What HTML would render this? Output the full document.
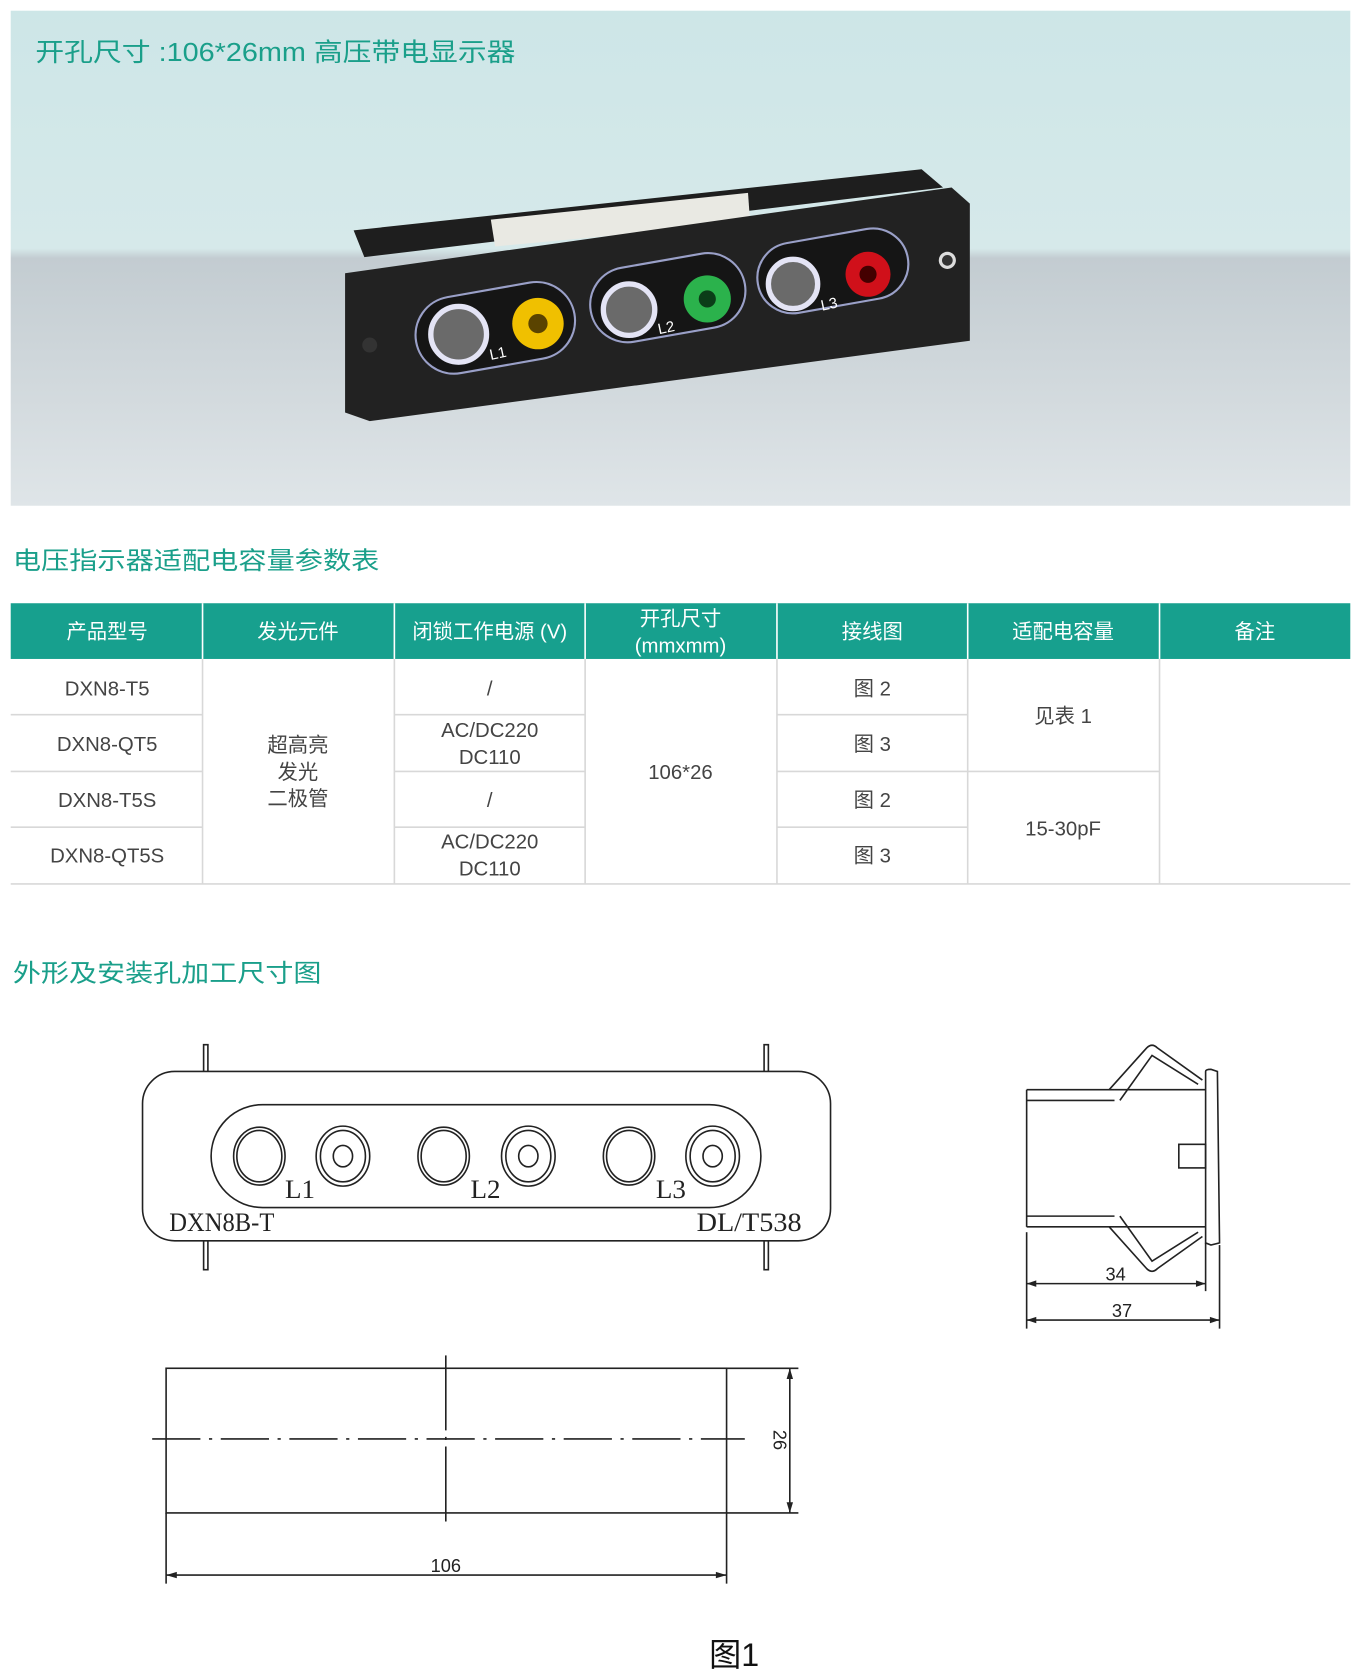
<!DOCTYPE html>
<html><head><meta charset="utf-8"><style>
html,body{margin:0;padding:0;background:#fff;}
svg{display:block;}
text{font-family:"Liberation Sans","Noto Sans CJK SC",sans-serif;}
text.serif{font-family:"Liberation Serif",serif;}
</style></head><body>
<svg width="1361" height="1679" viewBox="0 0 1270 1567" preserveAspectRatio="none" xmlns="http://www.w3.org/2000/svg">
<defs>
<linearGradient id="bg" x1="0" y1="0" x2="0" y2="1">
<stop offset="0" stop-color="#cde6e7"/><stop offset="0.48" stop-color="#d6e9ea"/>
<stop offset="0.5" stop-color="#c3ccd1"/><stop offset="1" stop-color="#dfe5e8"/>
</linearGradient>
</defs>
<rect x="10" y="10" width="1250" height="462" fill="url(#bg)"/>
<text x="33" y="57" font-size="24" fill="#1a9f8a" textLength="448" lengthAdjust="spacingAndGlyphs">开孔尺寸 :106*26mm 高压带电显示器</text>
<!-- device -->
<polygon points="330,215 860,158 880,175 340,240" fill="#1e1e1e"/>
<polygon points="458,205 698,180 700,208 462,230" fill="#e9e9e3"/>
<polygon points="322,255 888,175 905,190 905,318 345,393 322,385" fill="#222"/>
<circle cx="884" cy="243" r="8" fill="#ddd"/><circle cx="884" cy="243" r="5" fill="#333"/>
<circle cx="345" cy="322" r="7" fill="#333"/>
<g transform="rotate(-10 462 305)"><rect x="387" y="270" width="150" height="72" rx="36" fill="#151515" stroke="#9aa0c8" stroke-width="2"/></g>
<g transform="rotate(-10 622 277)"><rect x="550" y="243" width="146" height="70" rx="35" fill="#151515" stroke="#9aa0c8" stroke-width="2"/></g>
<g transform="rotate(-10 776 252)"><rect x="706" y="220" width="142" height="66" rx="33" fill="#151515" stroke="#9aa0c8" stroke-width="2"/></g>
<circle cx="428" cy="312" r="26" fill="#6a6a6a" stroke="#e4e4f5" stroke-width="5"/>
<circle cx="502" cy="302" r="24" fill="#f0c000"/><circle cx="502" cy="302" r="9" fill="#5a4300"/>
<circle cx="587" cy="289" r="24" fill="#6a6a6a" stroke="#e4e4f5" stroke-width="5"/>
<circle cx="660" cy="279" r="22" fill="#2bb24c"/><circle cx="660" cy="279" r="8" fill="#0b3d18"/>
<circle cx="740" cy="265" r="23" fill="#6a6a6a" stroke="#e4e4f5" stroke-width="5"/>
<circle cx="810" cy="256" r="21" fill="#d0101a"/><circle cx="810" cy="256" r="8" fill="#400"/>
<text x="458" y="336" font-size="14" fill="#fff" transform="rotate(-12 458 336)">L1</text>
<text x="615" y="312" font-size="14" fill="#fff" transform="rotate(-12 615 312)">L2</text>
<text x="767" y="290" font-size="14" fill="#fff" transform="rotate(-12 767 290)">L3</text>
<!-- table -->
<text x="12" y="531" font-size="23" fill="#1a9f8a" textLength="342" lengthAdjust="spacingAndGlyphs">电压指示器适配电容量参数表</text>
<rect x="10" y="563" width="1250" height="52" fill="#17a08e"/>
<g stroke="#fff" stroke-width="1.5"><line x1="189" y1="563" x2="189" y2="615"/><line x1="368" y1="563" x2="368" y2="615"/><line x1="546" y1="563" x2="546" y2="615"/><line x1="725" y1="563" x2="725" y2="615"/><line x1="903" y1="563" x2="903" y2="615"/><line x1="1082" y1="563" x2="1082" y2="615"/></g>
<g font-size="19" fill="#fff" text-anchor="middle">
<text x="100" y="596">产品型号</text><text x="278" y="596">发光元件</text><text x="457" y="596">闭锁工作电源 (V)</text>
<text x="635" y="584">开孔尺寸</text><text x="635" y="609">(mmxmm)</text>
<text x="814" y="596">接线图</text><text x="992" y="596">适配电容量</text><text x="1171" y="596">备注</text></g>
<g stroke="#d8d8d8" stroke-width="1.5">
<line x1="189" y1="615" x2="189" y2="825"/><line x1="368" y1="615" x2="368" y2="825"/><line x1="546" y1="615" x2="546" y2="825"/><line x1="725" y1="615" x2="725" y2="825"/><line x1="903" y1="615" x2="903" y2="825"/><line x1="1082" y1="615" x2="1082" y2="825"/>
<line x1="10" y1="667" x2="189" y2="667"/><line x1="10" y1="720" x2="189" y2="720"/><line x1="10" y1="772" x2="189" y2="772"/>
<line x1="368" y1="667" x2="546" y2="667"/><line x1="368" y1="720" x2="546" y2="720"/><line x1="368" y1="772" x2="546" y2="772"/>
<line x1="725" y1="667" x2="903" y2="667"/><line x1="725" y1="720" x2="903" y2="720"/><line x1="725" y1="772" x2="903" y2="772"/>
<line x1="903" y1="720" x2="1082" y2="720"/>
<line x1="10" y1="825" x2="1260" y2="825"/></g>
<g font-size="19" fill="#444" text-anchor="middle">
<text x="100" y="649">DXN8-T5</text><text x="100" y="701">DXN8-QT5</text><text x="100" y="753">DXN8-T5S</text><text x="100" y="805">DXN8-QT5S</text>
<text x="278" y="702">超高亮</text><text x="278" y="727">发光</text><text x="278" y="752">二极管</text>
<text x="457" y="649">/</text><text x="457" y="688">AC/DC220</text><text x="457" y="713">DC110</text>
<text x="457" y="753">/</text><text x="457" y="792">AC/DC220</text><text x="457" y="817">DC110</text>
<text x="635" y="727">106*26</text>
<text x="814" y="649">图 2</text><text x="814" y="701">图 3</text><text x="814" y="753">图 2</text><text x="814" y="805">图 3</text>
<text x="992" y="675">见表 1</text><text x="992" y="780">15-30pF</text></g>
<text x="12" y="916" font-size="23" fill="#1a9f8a" textLength="288" lengthAdjust="spacingAndGlyphs">外形及安装孔加工尺寸图</text>
<!-- front drawing -->
<g fill="none" stroke="#222" stroke-width="1.5">
<rect x="190" y="975" width="4" height="210" fill="#fff"/><rect x="713" y="975" width="4" height="210" fill="#fff"/>
<rect x="133" y="1000" width="642" height="158" rx="30" fill="#fff"/>
<rect x="197" y="1031" width="513" height="96" rx="48"/>
<ellipse cx="242" cy="1079" rx="24" ry="27"/><ellipse cx="242" cy="1079" rx="21" ry="24"/>
<ellipse cx="320" cy="1079" rx="25" ry="28"/><ellipse cx="320" cy="1079" rx="21" ry="24"/><ellipse cx="320" cy="1079" rx="9" ry="10"/>
<ellipse cx="414" cy="1079" rx="24" ry="27"/><ellipse cx="414" cy="1079" rx="21" ry="24"/>
<ellipse cx="493" cy="1079" rx="25" ry="28"/><ellipse cx="493" cy="1079" rx="21" ry="24"/><ellipse cx="493" cy="1079" rx="9" ry="10"/>
<ellipse cx="587" cy="1079" rx="24" ry="27"/><ellipse cx="587" cy="1079" rx="21" ry="24"/>
<ellipse cx="665" cy="1079" rx="25" ry="28"/><ellipse cx="665" cy="1079" rx="21" ry="24"/><ellipse cx="665" cy="1079" rx="9" ry="10"/>
</g>
<g font-size="25" fill="#222">
<text class="serif" x="266" y="1118" textLength="28" lengthAdjust="spacingAndGlyphs">L1</text>
<text class="serif" x="439" y="1118" textLength="28" lengthAdjust="spacingAndGlyphs">L2</text>
<text class="serif" x="612" y="1118" textLength="28" lengthAdjust="spacingAndGlyphs">L3</text>
<text class="serif" x="158" y="1149" textLength="98" lengthAdjust="spacingAndGlyphs">DXN8B-T</text>
<text class="serif" x="650" y="1149" textLength="98" lengthAdjust="spacingAndGlyphs">DL/T538</text></g>
<!-- side view -->
<g fill="none" stroke="#222" stroke-width="1.5">
<line x1="958" y1="1017" x2="1040" y2="1017"/><line x1="958" y1="1027" x2="1040" y2="1027"/>
<line x1="958" y1="1017" x2="958" y2="1145"/>
<line x1="958" y1="1135" x2="1040" y2="1135"/><line x1="958" y1="1145" x2="1040" y2="1145"/>
<path d="M1035,1017 L1070,978 Q1075,973 1080,978 L1122,1008"/>
<path d="M1045,1027 L1075,985 L1118,1012"/>
<path d="M1035,1145 L1070,1184 Q1075,1189 1080,1184 L1122,1154"/>
<path d="M1045,1135 L1075,1177 L1118,1150"/>
<path d="M1125,1008 L1125,1000 Q1125,998 1130,998 L1136,1000 L1138,1160 L1130,1162 L1125,1160 Z"/>
<line x1="1040" y1="1017" x2="1125" y2="1017"/><line x1="1040" y1="1145" x2="1125" y2="1145"/>
<rect x="1100" y="1068" width="25" height="22"/>
<line x1="958" y1="1150" x2="958" y2="1240"/><line x1="1125" y1="1160" x2="1125" y2="1205"/><line x1="1138" y1="1162" x2="1138" y2="1240"/>
<line x1="958" y1="1198" x2="1125" y2="1198"/><line x1="958" y1="1232" x2="1138" y2="1232"/>
</g>
<g fill="#222"><path d="M958,1198 l9,-3 v6z"/><path d="M1125,1198 l-9,-3 v6z"/><path d="M958,1232 l9,-3 v6z"/><path d="M1138,1232 l-9,-3 v6z"/></g>
<g font-size="17" fill="#222" text-anchor="middle"><text x="1041" y="1195">34</text><text x="1047" y="1229">37</text></g>
<!-- cutout -->
<g fill="none" stroke="#222" stroke-width="1.5">
<rect x="155" y="1277" width="523" height="135"/>
<line x1="416" y1="1265" x2="416" y2="1422" stroke-dasharray="70,6,3,6"/>
<line x1="142" y1="1343" x2="695" y2="1343" stroke-dasharray="45,8,3,8"/>
<line x1="678" y1="1277" x2="745" y2="1277"/><line x1="678" y1="1412" x2="745" y2="1412"/>
<line x1="737" y1="1277" x2="737" y2="1412"/>
<line x1="155" y1="1412" x2="155" y2="1478"/><line x1="678" y1="1412" x2="678" y2="1478"/>
<line x1="155" y1="1470" x2="678" y2="1470"/>
</g>
<g fill="#222"><path d="M737,1277 l-3,10 h6z"/><path d="M737,1412 l-3,-10 h6z"/><path d="M155,1470 l10,-3 v6z"/><path d="M678,1470 l-10,-3 v6z"/></g>
<text x="416" y="1467" font-size="17" fill="#222" text-anchor="middle">106</text>
<text x="722" y="1344" font-size="17" fill="#222" text-anchor="middle" transform="rotate(90 722 1344)">26</text>
<text x="685" y="1555" font-size="30" fill="#111" text-anchor="middle">图1</text>
</svg>
</body></html>
